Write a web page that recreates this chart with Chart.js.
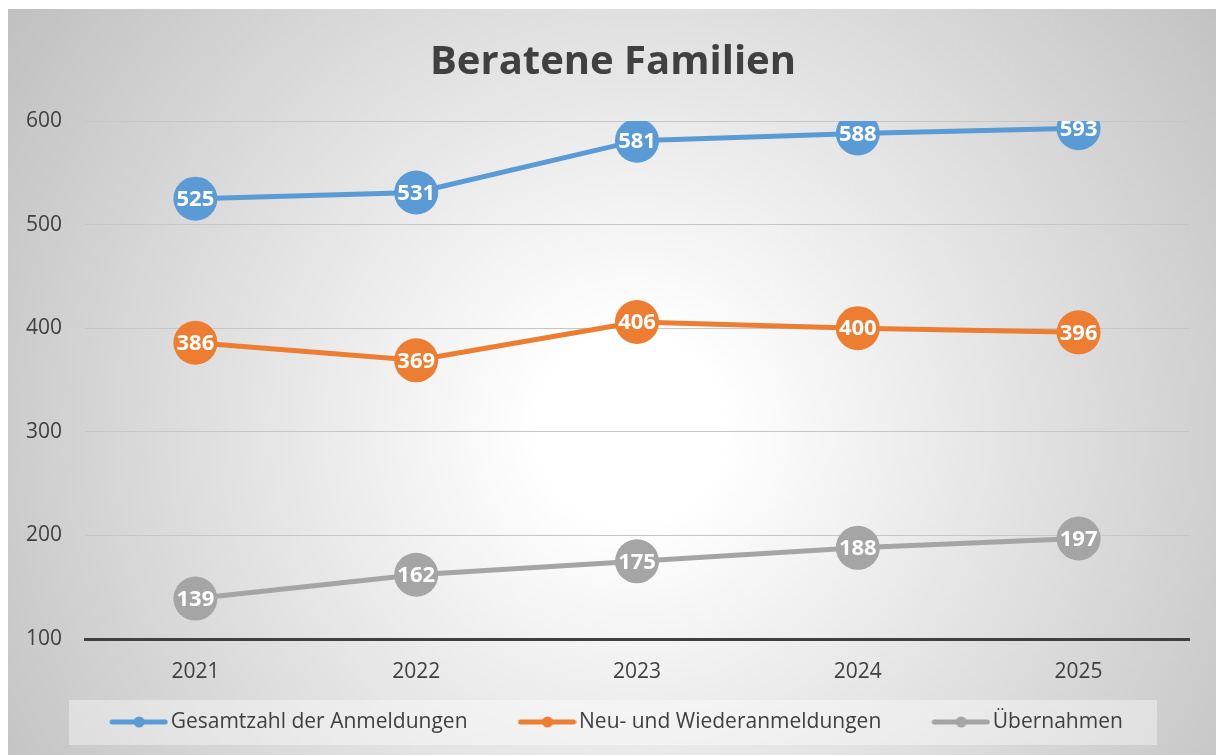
<!DOCTYPE html>
<html>
<head>
<meta charset="utf-8">
<script src="https://cdn.jsdelivr.net/npm/chart.js@4/dist/chart.umd.min.js"></script>
<style>
  html, body { margin: 0; padding: 0; background: #ffffff; }
  #wrap { width: 1216px; height: 755px; }
</style>
</head>
<body>
<div id="wrap"><canvas id="c" width="1216" height="755"></canvas></div>
<script>
const years = ['2021', '2022', '2023', '2024', '2025'];
const gesamt = [525, 531, 581, 588, 593];
const neuWieder = [386, 369, 406, 400, 396];
const uebernahmen = [139, 162, 175, 188, 197];
const seriesNames = ['Gesamtzahl der Anmeldungen', 'Neu- und Wiederanmeldungen', 'Übernahmen'];
const yTicks = [100, 200, 300, 400, 500, 600];

const colors = ['#5B9BD5', '#ED7D31', '#A5A5A5'];
const FONT = '"Open Sans", "Noto Sans", sans-serif';

function legendIcon(color) {
  const W = 107, H = 20;
  const cv = document.createElement('canvas');
  cv.width = W; cv.height = H;
  const g = cv.getContext('2d');
  g.strokeStyle = color; g.lineWidth = 5; g.lineCap = 'round';
  g.beginPath(); g.moveTo(W - 56, H / 2); g.lineTo(W - 3, H / 2); g.stroke();
  g.fillStyle = color;
  g.beginPath(); g.arc(W - 29, H / 2, 5.5, 0, Math.PI * 2); g.fill();
  return cv;
}

const bgPlugin = {
  id: 'bg',
  afterLayout(chart) {
    // centre the title over the whole picture (as in the reference)
    if (chart.titleBlock) {
      chart.titleBlock.left = 37;
      chart.titleBlock.width = chart.titleBlock.right - 37;
    }
    if (chart.legend) {
      chart.legend.left = 3;
      chart.legend.width = chart.legend.right - 3;
    }
  },
  beforeDraw(chart) {
    const ctx = chart.ctx;
    ctx.save();
    ctx.fillStyle = '#ffffff';
    ctx.fillRect(0, 0, chart.width, chart.height);
    const grad = ctx.createRadialGradient(630, 430, 0, 630, 430, 780);
    grad.addColorStop(0, '#ffffff');
    grad.addColorStop(0.12, '#ffffff');
    grad.addColorStop(1, '#bdbdbd');
    ctx.fillStyle = grad;
    ctx.fillRect(8, 9, chart.width - 8, chart.height - 9);
    // legend background
    ctx.fillStyle = 'rgba(255,255,255,0.38)';
    ctx.fillRect(69, 700, 1088, 45);
    ctx.restore();
  }
};

const labelPlugin = {
  id: 'valueLabels',
  afterDatasetsDraw(chart) {
    const ctx = chart.ctx;
    ctx.save();
    ctx.font = 'bold 22px ' + FONT;
    ctx.fillStyle = '#ffffff';
    ctx.textAlign = 'center';
    ctx.textBaseline = 'middle';
    chart.data.datasets.forEach((ds, i) => {
      const meta = chart.getDatasetMeta(i);
      meta.data.forEach((pt, j) => {
        ctx.fillText(String(ds.data[j]), pt.x, pt.y + 1);
      });
    });
    ctx.restore();
  }
};

const dataSeries = [gesamt, neuWieder, uebernahmen];
const datasets = dataSeries.map((d, i) => ({
  label: seriesNames[i],
  data: d,
  borderColor: colors[i],
  backgroundColor: colors[i],
  borderWidth: 5,
  pointRadius: 22,
  pointHoverRadius: 22,
  pointBorderWidth: 0,
  pointBackgroundColor: colors[i],
  pointStyle: 'circle',
  tension: 0,
  fill: false
}));

const icons = colors.map(legendIcon);

new Chart(document.getElementById('c'), {
  type: 'line',
  data: { labels: years, datasets },
  options: {
    responsive: false,
    animation: false,
    devicePixelRatio: 1,
    layout: { padding: { left: 0, right: 27, top: 0, bottom: 12.5 } },
    plugins: {
      title: {
        display: true,
        text: 'Beratene Familien',
        color: '#404040',
        font: { family: FONT, size: 40, weight: 'bold' },
        padding: { top: 39, bottom: 34 }
      },
      legend: {
        display: true,
        position: 'bottom',
        align: 'center',
        labels: {
          usePointStyle: true,
          pointStyleWidth: 91,
          padding: 10,
          color: '#404040',
          font: { family: FONT, size: 21 },
          generateLabels(chart) {
            return chart.data.datasets.map((ds, i) => ({
              text: ds.label,
              pointStyle: icons[i],
              fillStyle: colors[i],
              strokeStyle: colors[i],
              lineWidth: 0,
              hidden: false,
              datasetIndex: i,
              fontColor: '#404040'
            }));
          }
        }
      },
      tooltip: { enabled: false }
    },
    scales: {
      x: {
        offset: true,
        grid: { display: false, drawTicks: false },
        border: { display: true, color: '#404040', width: 3 },
        ticks: { color: '#404040', font: { family: FONT, size: 21 }, padding: 20 },
        afterFit(s) { s.height = 62.5; }
      },
      y: {
        min: 100,
        max: 600,
        afterBuildTicks(s) { s.ticks = yTicks.map(v => ({ value: v })); },
        grid: { color: '#c6c6c6', lineWidth: 1, drawTicks: false },
        border: { display: false },
        ticks: { color: '#404040', font: { family: FONT, size: 21 }, padding: 23 },
        afterFit(s) { s.width = 85; }
      }
    }
  },
  plugins: [bgPlugin, labelPlugin]
});
</script>
</body>
</html>
